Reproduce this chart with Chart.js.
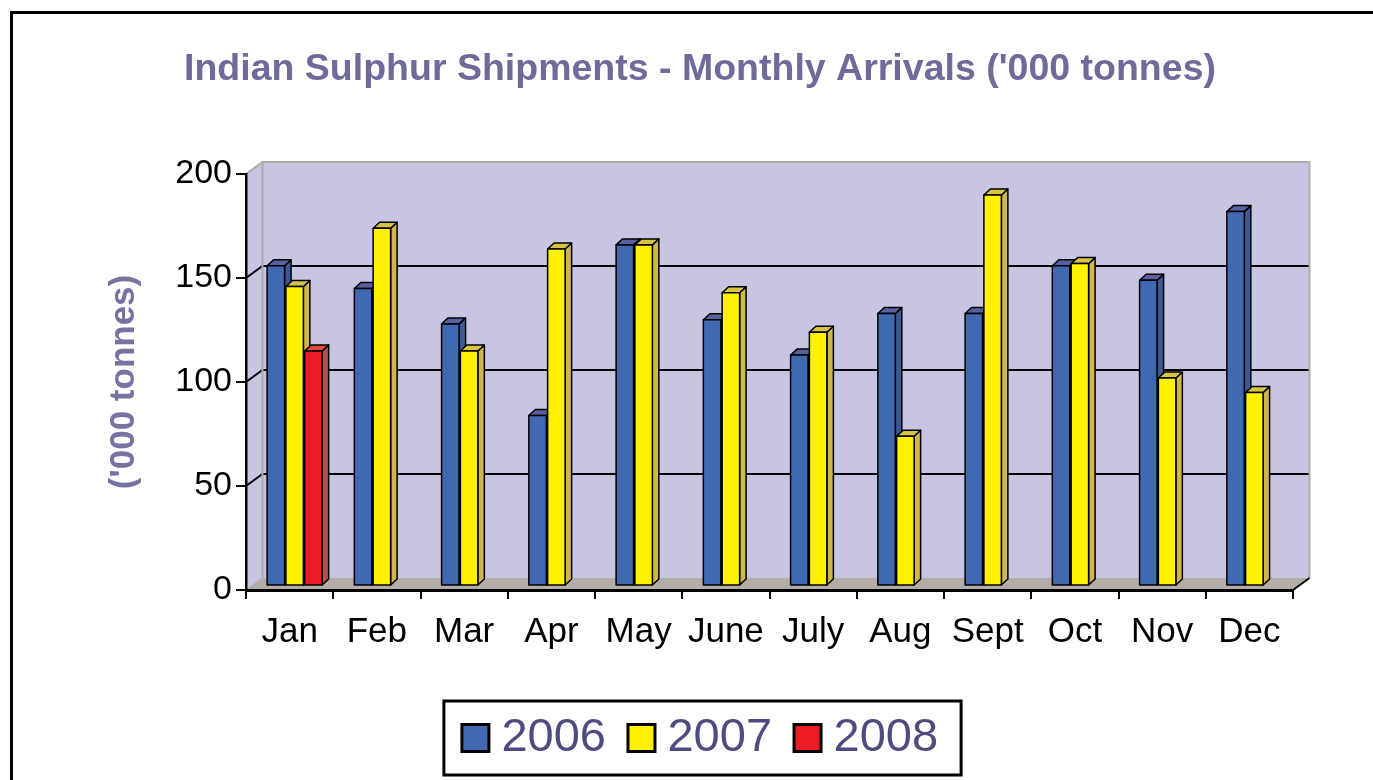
<!DOCTYPE html>
<html>
<head>
<meta charset="utf-8">
<title>Indian Sulphur Shipments</title>
<script src="https://cdn.jsdelivr.net/npm/chart.js@4.4.1/dist/chart.umd.min.js"></script>
<style>
  html, body { margin: 0; padding: 0; background: #fff; }
  canvas { display: block; }
</style>
</head>
<body>
<canvas id="chart" width="1373" height="780"></canvas>
<script>
const MONTHS = ['Jan', 'Feb', 'Mar', 'Apr', 'May', 'June', 'July', 'Aug', 'Sept', 'Oct', 'Nov', 'Dec'];
const ARRIVALS_2006 = [154, 143, 126, 82, 164, 128, 111, 131, 131, 154, 147, 180];
const ARRIVALS_2007 = [144, 172, 113, 162, 164, 141, 122, 72, 188, 155, 100, 93];
const ARRIVALS_2008 = [113, null, null, null, null, null, null, null, null, null, null, null];
const Y_TICKS = [0, 50, 100, 150, 200];

const FONT = "'Liberation Sans', Arial, sans-serif";
const WALL = '#c7c5e2';
const FLOOR = '#b3aca7';
const EDGE = '#b0aaa5';
const DEPTH = { x: 16.5, y: -12 };      // back wall offset from the front plane
const BAR_SHIFT = { x: 5, y: -4 };      // bars sit a little behind the front axis
const BAR_DEPTH = { x: 6.5, y: -6 };
const KEY = 27;                          // legend square size

const FACES = [
  { front: '#4169b1', side: '#3b5992', top: '#5862a2' },
  { front: '#fff200', side: '#cfb64e', top: '#d9c347' },
  { front: '#ed1c24', side: '#b5524b', top: '#de4d3c' },
];

function poly(ctx, pts, fill) {
  ctx.beginPath();
  ctx.moveTo(pts[0][0], pts[0][1]);
  for (let i = 1; i < pts.length; i++) ctx.lineTo(pts[i][0], pts[i][1]);
  ctx.closePath();
  ctx.fillStyle = fill;
  ctx.fill();
  ctx.stroke();
}

function drawBar(ctx, left, top, width, base, c) {
  const r = left + width, dx = BAR_DEPTH.x, dy = BAR_DEPTH.y;
  poly(ctx, [[r, top], [r + dx, top + dy], [r + dx, base + dy], [r, base]], c.side);
  poly(ctx, [[left, top], [left + dx, top + dy], [r + dx, top + dy], [r, top]], c.top);
  poly(ctx, [[left, top], [r, top], [r, base], [left, base]], c.front);
}

const box3d = {
  id: 'box3d',
  beforeDraw(chart) {
    const { ctx, chartArea: a, scales: { y } } = chart;
    const dx = DEPTH.x, dy = DEPTH.y;
    const y0 = y.getPixelForValue(0), yT = y.getPixelForValue(200);
    ctx.save();
    ctx.fillStyle = WALL;
    ctx.beginPath();
    ctx.moveTo(a.left, yT); ctx.lineTo(a.left + dx, yT + dy);
    ctx.lineTo(a.left + dx, y0 + dy); ctx.lineTo(a.left, y0);
    ctx.closePath(); ctx.fill();
    ctx.fillRect(a.left + dx, yT + dy, a.right - a.left, y0 - yT);

    ctx.fillStyle = FLOOR;
    ctx.beginPath();
    ctx.moveTo(a.left, y0); ctx.lineTo(a.left + dx, y0 + dy);
    ctx.lineTo(a.right + dx, y0 + dy); ctx.lineTo(a.right, y0);
    ctx.closePath(); ctx.fill();

    // gridlines run along the side wall and the back wall
    ctx.lineWidth = 2;
    ctx.strokeStyle = '#000';
    Y_TICKS.filter(v => v > 0 && v < 200).forEach(v => {
      const p = y.getPixelForValue(v);
      ctx.beginPath();
      ctx.moveTo(a.left, p); ctx.lineTo(a.left + dx, p + dy); ctx.lineTo(a.right + dx, p + dy);
      ctx.stroke();
    });

    ctx.strokeStyle = EDGE;
    ctx.beginPath();
    ctx.moveTo(a.left, yT); ctx.lineTo(a.left + dx, yT + dy);
    ctx.lineTo(a.right + dx, yT + dy); ctx.lineTo(a.right + dx, y0 + dy);
    ctx.moveTo(a.left + dx, yT + dy); ctx.lineTo(a.left + dx, y0 + dy);
    ctx.stroke();
    ctx.lineWidth = 1;
    ctx.beginPath();
    ctx.moveTo(a.left, y0); ctx.lineTo(a.left + dx, y0 + dy);
    ctx.stroke();

    ctx.lineWidth = 2;
    ctx.strokeStyle = '#000';
    ctx.beginPath();
    ctx.moveTo(a.right, y0); ctx.lineTo(a.right + dx, y0 + dy);
    ctx.stroke();
    ctx.restore();
  },
  beforeDatasetsDraw(chart) {
    const ctx = chart.ctx;
    ctx.save();
    ctx.translate(BAR_SHIFT.x, BAR_SHIFT.y);
    ctx.lineWidth = 1.5;
    ctx.strokeStyle = '#000';
    ctx.lineJoin = 'round';
    chart.data.datasets.forEach((ds, i) => {
      chart.getDatasetMeta(i).data.forEach((bar, j) => {
        if (ds.data[j] == null) return;
        const { x, y, base, width } = bar.getProps(['x', 'y', 'base', 'width'], true);
        drawBar(ctx, x - width / 2, y, width, base, FACES[i]);
      });
    });
    ctx.restore();
    return false;
  },
  afterDraw(chart) {
    const ctx = chart.ctx;
    const hb = chart.legend.legendHitBoxes;
    ctx.save();
    ctx.strokeStyle = '#000';
    ctx.lineWidth = 3;
    if (hb && hb.length) {
      // the legend keeps a narrow slot for the key; draw the full-size squares here
      hb.forEach((h, i) => {
        const cy = h.top + h.height / 2;
        ctx.fillStyle = FACES[i].front;
        ctx.fillRect(h.left, cy - KEY / 2, KEY, KEY);
        ctx.strokeRect(h.left, cy - KEY / 2, KEY, KEY);
      });
      const first = hb[0], last = hb[hb.length - 1];
      const cy = first.top + first.height / 2;
      const l = first.left - 18, r = last.left + last.width + 23;
      ctx.strokeRect(l, cy - 37, r - l, 74);
    }
    ctx.strokeRect(11.5, 12.5, 1500, 900);
    ctx.restore();
  },
};

new Chart(document.getElementById('chart'), {
  type: 'bar',
  data: {
    labels: MONTHS,
    datasets: [
      { label: '2006', data: ARRIVALS_2006, backgroundColor: FACES[0].front },
      { label: '2007', data: ARRIVALS_2007, backgroundColor: FACES[1].front },
      { label: '2008', data: ARRIVALS_2008, backgroundColor: FACES[2].front },
    ],
  },
  options: {
    responsive: false,
    devicePixelRatio: 1,
    animation: false,
    events: [],
    categoryPercentage: 0.646,
    barPercentage: 0.93,
    layout: { padding: { left: 107, right: 80, top: 0, bottom: 8.5 } },
    scales: {
      x: {
        grid: { offset: true, drawOnChartArea: false, tickLength: 9, color: '#000', lineWidth: 2 },
        border: { color: '#000', width: 3 },
        ticks: { color: '#000', padding: 12, font: { family: FONT, size: 35 } },
        afterFit: s => { s.height = 102.5; },
      },
      y: {
        min: 0, max: 200,
        afterBuildTicks: s => { s.ticks = Y_TICKS.map(v => ({ value: v })); },
        grid: { drawOnChartArea: false, tickLength: 10, color: '#000', lineWidth: 2 },
        border: { color: '#000', width: 2.5 },
        ticks: { color: '#000', padding: 4, font: { family: FONT, size: 34 } },
        title: {
          display: true, text: "('000 tonnes)", color: '#7673a3', padding: 0,
          font: { family: FONT, size: 35, weight: 'bold', lineHeight: 1 },
        },
        afterFit: s => { s.width = 139; },
      },
    },
    plugins: {
      title: {
        display: true,
        text: "Indian Sulphur Shipments - Monthly Arrivals ('000 tonnes)",
        color: '#6e6b9b',
        font: { family: FONT, size: 37.5, weight: 'bold' },
        padding: { top: 47, bottom: 82 },
      },
      legend: {
        position: 'bottom',
        labels: {
          boxWidth: 16, boxHeight: 27, padding: 22, color: '#4e4b7f',
          font: { family: FONT, size: 47 },
          generateLabels: chart => Chart.defaults.plugins.legend.labels.generateLabels(chart)
            .map(it => Object.assign(it, { fillStyle: 'rgba(0,0,0,0)', strokeStyle: 'rgba(0,0,0,0)', lineWidth: 0 })),
        },
      },
      tooltip: { enabled: false },
    },
  },
  plugins: [box3d],
});
</script>
</body>
</html>
